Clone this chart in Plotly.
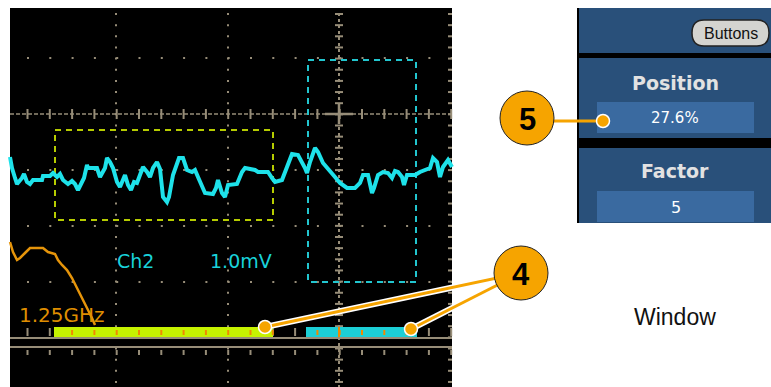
import plotly.graph_objects as go

W, H = 771, 387

# Ch2 waveform (pixel units, y down)
cyan_x = [10, 12, 15, 17, 22, 24, 27, 30, 33, 42, 43, 50, 53, 57, 60, 63, 68, 72, 75, 78, 81, 84, 87, 88,
          97, 100, 105, 107, 110, 113, 117, 120, 125, 128, 131, 134, 137, 141, 143, 147, 150, 153, 157,
          160, 163, 167, 169, 173, 179, 183, 187, 192, 195, 198, 202, 205, 213, 216, 218, 222, 225, 228,
          237, 242, 245, 255, 258, 268, 272, 275, 282, 285, 288, 292, 298, 302, 305, 307, 310, 315, 318,
          323, 330, 335, 340, 347, 355, 360, 363, 368, 372, 374, 378, 383, 388, 392, 395, 398, 402, 404,
          407, 415, 420, 425, 430, 433, 437, 440, 443, 448, 452]
cyan_y = [157, 168, 178, 184, 178, 174, 182, 184, 180, 180, 176, 176, 173, 177, 174, 180, 184, 181, 184, 190,
          184, 178, 165, 168, 168, 177, 168, 158, 162, 168, 182, 187, 175, 185, 190, 182, 183, 172, 167,
          172, 177, 168, 162, 169, 197, 202, 197, 175, 158, 158, 170, 172, 170, 177, 185, 193, 194, 188,
          180, 193, 197, 185, 184, 172, 168, 170, 172, 172, 178, 182, 180, 172, 162, 154, 155, 162, 168,
          173, 162, 148, 152, 163, 172, 177, 183, 188, 188, 183, 175, 175, 193, 188, 175, 172, 173, 178,
          171, 172, 177, 185, 175, 175, 172, 170, 168, 158, 162, 177, 167, 160, 167]

# orange spectrum trace
orange_x = [10, 13, 17, 20, 25, 30, 43, 48, 55, 58, 62, 67, 72, 77, 82, 87, 92, 95]
orange_y = [242, 252, 260, 258, 253, 248, 248, 252, 254, 260, 265, 270, 278, 288, 298, 307, 318, 325]

# graticule
grid_v = [116, 228]
grid_h = [58, 170, 226, 282]
center_x, center_y = 339, 114
right_x = 451
minor_dx, minor_dy = 22.3, 11.15

# zoom windows on the bottom bar and dashed boxes
bar_yellow = (54, 273)
bar_cyan = (306, 417)
box_yellow = (55, 273, 130, 220)
box_cyan = (308, 416, 60, 282)

# callouts
callout_4_xy = (521, 273)
callout_5_xy = (527, 118)
dots_4_x = [265, 411]
dots_4_y = [327, 329]
dot_5_x, dot_5_y = 603, 121

BG = "black"
GRID = "#978d78"
CYAN = "#1ee2ea"
YEL = "#c6f200"
ORANGE = "#e5940a"
CALL = "#f6a400"
PANEL = "#29507a"
FIELD = "#3a6aa0"

shapes = []


def rect(x0, x1, y0, y1, fill, line=None, lw=0, dash=None, layer="below"):
    shapes.append(dict(type="rect", x0=x0, x1=x1, y0=y0, y1=y1, fillcolor=fill, layer=layer,
                       line=dict(color=line or "rgba(0,0,0,0)", width=lw, dash=dash)))


def seg(x0, y0, x1, y1, color, w, dash=None, layer="below"):
    shapes.append(dict(type="line", x0=x0, y0=y0, x1=x1, y1=y1, layer=layer,
                       line=dict(color=color, width=w, dash=dash)))


# scope screen
rect(10, 452, 8, H, BG)

for gx in grid_v:
    seg(gx, 13, gx, H, GRID, 2, "2px,9.15px")
for gy in grid_h:
    seg(27, gy, 452, gy, GRID, 2, "2px,20.3px")

# centre axes with ticks
seg(10, center_y, 452, center_y, GRID, 1.5, "4px,2px")
k = 0
while 27 + k * minor_dx < 452:
    tx = 27.5 + k * minor_dx
    seg(tx, center_y - 5, tx, center_y + 5, GRID, 2)
    k += 1
seg(center_x, 13, center_x, H, GRID, 2, "3px,3px")
k = 0
while 13 + k * minor_dy < H:
    ty = 14 + k * minor_dy
    seg(center_x - 4, ty, center_x + 4, ty, GRID, 2)
    seg(right_x - 3, ty, right_x + 1, ty, GRID, 2)
    k += 1
seg(center_x - 14, center_y, center_x + 14, center_y, GRID, 2.5)
seg(center_x, center_y - 10, center_x, center_y + 10, GRID, 2.5)

# bottom zoom bar area
seg(10, 338, 452, 338, GRID, 2)
seg(10, 347, 452, 347, GRID, 2)
k = 0
while 27 + k * minor_dx < 452:
    tx = 27.5 + k * minor_dx
    seg(tx, 328, tx, 336, GRID, 2)
    seg(tx, 350, tx, 355, GRID, 2)
    k += 1

rect(bar_yellow[0], bar_yellow[1], 327, 337, YEL)
rect(bar_cyan[0], bar_cyan[1], 327, 337, "#1ccfd6")
k = 0
while 27 + k * minor_dx < 452:
    tx = 27.5 + k * minor_dx
    if bar_yellow[0] < tx < bar_yellow[1] or bar_cyan[0] < tx < bar_cyan[1]:
        seg(tx, 330, tx, 335, "#f08a00", 2)
    k += 1
seg(center_x, 327, center_x, 337, "#f08a00", 2)

# dashed zoom boxes
rect(box_yellow[0], box_yellow[1], box_yellow[2], box_yellow[3], "rgba(0,0,0,0)", "#b6cc00", 2, "6px,5px")
rect(box_cyan[0], box_cyan[1], box_cyan[2], box_cyan[3], "rgba(0,0,0,0)", "#22c6cf", 2, "6px,5px")

# side menu panel
rect(577, W, 8, 223, PANEL)
seg(578, 8, 578, 223, "black", 2)
rect(577, W, 53, 58, "black")
rect(577, W, 138, 148, "black")
rect(597, 754, 102, 133, FIELD)
rect(597, 754, 191, 222, FIELD)
shapes.append(dict(type="path", layer="below",
                   path="M 704,20 L 757,20 Q 769,20 769,33 Q 769,46 757,46 L 704,46 Q 692,46 692,33 Q 692,20 704,20 Z",
                   fillcolor="#d4d4d0", line=dict(color="#222", width=1.5)))

# callout circles on top
for cx, cy in (callout_4_xy, callout_5_xy):
    shapes.append(dict(type="circle", x0=cx - 27, x1=cx + 27, y0=cy - 27, y1=cy + 27, layer="above",
                       fillcolor=CALL, line=dict(color="#222", width=1)))

fig = go.Figure()
fig.add_trace(go.Scatter(x=orange_x, y=orange_y, mode="lines",
                         line=dict(color=ORANGE, width=2.5), hoverinfo="skip"))
fig.add_trace(go.Scatter(x=cyan_x, y=cyan_y, mode="lines",
                         line=dict(color=CYAN, width=4), hoverinfo="skip"))

# callout leader lines
for i in range(2):
    lx = [dots_4_x[i], callout_4_xy[0]]
    ly = [dots_4_y[i], callout_4_xy[1]]
    fig.add_trace(go.Scatter(x=lx, y=ly, mode="lines", line=dict(color="white", width=6), hoverinfo="skip"))
    fig.add_trace(go.Scatter(x=lx, y=ly, mode="lines", line=dict(color=CALL, width=3), hoverinfo="skip"))
fig.add_trace(go.Scatter(x=[callout_5_xy[0], dot_5_x], y=[dot_5_y, dot_5_y], mode="lines",
                         line=dict(color=CALL, width=3), hoverinfo="skip"))
fig.add_trace(go.Scatter(x=dots_4_x + [dot_5_x], y=dots_4_y + [dot_5_y], mode="markers",
                         marker=dict(color=CALL, size=13, line=dict(color="white", width=1.5)),
                         hoverinfo="skip"))

ann = []


def txt(x, y, s, size, color, family="DejaVu Sans", anchor="center", bold=False):
    ann.append(dict(x=x, y=y, text=s, showarrow=False, xanchor=anchor, yanchor="middle",
                    font=dict(size=size, color=color, family=family, weight="bold" if bold else "normal")))


txt(115, 261, "Ch2", 19, "#19d2da", anchor="left")
txt(208, 261, "1.0mV", 19, "#19d2da", anchor="left")
txt(17, 315, "1.25GHz", 20, "#df8e00", anchor="left")
txt(675, 83, "Position", 19, "#e2e2e2", bold=True)
txt(675, 171, "Factor", 19, "#e2e2e2", bold=True)
txt(675, 118, "27.6%", 15, "white")
txt(676, 207, "5", 16, "white")
txt(731, 33, "Buttons", 16, "#111", family="Liberation Sans")
txt(675, 317, "Window", 23, "#111", family="Liberation Sans")
txt(callout_5_xy[0], callout_5_xy[1] + 1, "5", 31, "black", family="Liberation Sans Narrow, Liberation Sans", bold=True)
txt(callout_4_xy[0], callout_4_xy[1] + 1, "4", 31, "black", family="Liberation Sans Narrow, Liberation Sans", bold=True)

fig.update_layout(
    width=W, height=H, margin=dict(l=0, r=0, t=0, b=0),
    paper_bgcolor="white", plot_bgcolor="white", showlegend=False,
    shapes=shapes, annotations=ann,
    xaxis=dict(range=[0, W], visible=False, fixedrange=True),
    yaxis=dict(range=[H, 0], visible=False, fixedrange=True),
)

# drop the default page margin so the figure sits flush in the window
fig.write_html("out.html", config={"displayModeBar": False},
               post_script="document.body.style.margin='0';document.body.style.overflow='hidden';")
